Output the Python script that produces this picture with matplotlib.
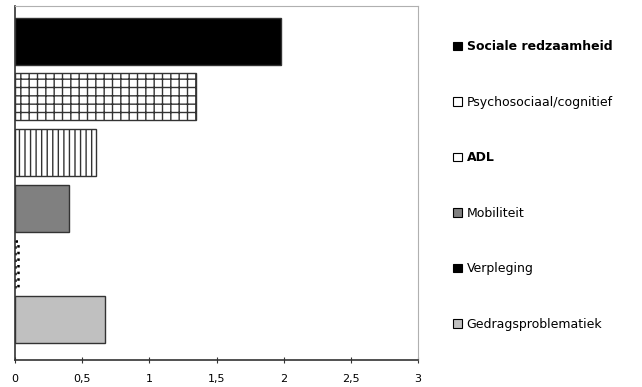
import matplotlib
matplotlib.use("Agg")
import matplotlib.pyplot as plt
from matplotlib.patches import Patch

categories = ["Sociale redzaamheid", "Psychosociaal/cognitief", "ADL",
              "Mobiliteit", "Verpleging", "Gedragsproblematiek"]
values = [1.98, 1.35, 0.60, 0.40, 0.02, 0.67]
xticks = [0, 0.5, 1, 1.5, 2, 2.5, 3]
xticklabels = ["0", "0,5", "1", "1,5", "2", "2,5", "3"]

faces = ["black", "white", "white", "#808080", "white", "#c0c0c0"]
legend_faces = ["black", "white", "white", "#808080", "black", "#c0c0c0"]
hatches = [None, "++", "|||", None, None, None]
bold = [True, False, True, False, False, False]

plt.rcParams["hatch.linewidth"] = 1.0

fig = plt.figure(figsize=(6.42, 3.87), dpi=100)
ax = fig.add_axes([0.0234, 0.0698, 0.6277, 0.9147])

pos = list(range(len(categories)))
bars = ax.barh(pos, values, height=0.84, color=faces, edgecolor="#333333",
               linewidth=1.0)
for b, h in zip(bars, hatches):
    if h:
        b.set_hatch(h)
bars[4].set_linestyle(":")
bars[4].set_linewidth(1.8)
bars[4].set_edgecolor("black")

ax.set_xlim(0, 3)
ax.set_ylim(5.72, -0.63)
ax.set_xticks(xticks)
ax.set_xticklabels(xticklabels, fontsize=8)
ax.set_yticks([])
ax.tick_params(axis="x", direction="inout", length=4, color="#333333", pad=8)
for s in ["top", "right"]:
    ax.spines[s].set_color("#b0b0b0")
for s in ["left", "bottom"]:
    ax.spines[s].set_color("#333333")
    ax.spines[s].set_linewidth(1.2)

handles = []
for f, h in zip(legend_faces, hatches):
    handles.append(Patch(facecolor=f, edgecolor="black", hatch=None, linewidth=0.8))
leg = fig.legend(handles, categories, loc="upper left",
                 bbox_to_anchor=(0.688, 0.925), frameon=False, fontsize=9,
                 handlelength=0.7, handleheight=0.7, handletextpad=0.4,
                 labelspacing=3.4)
for t, b in zip(leg.get_texts(), bold):
    if b:
        t.set_fontweight("bold")

fig.savefig("out.png", dpi=100)
